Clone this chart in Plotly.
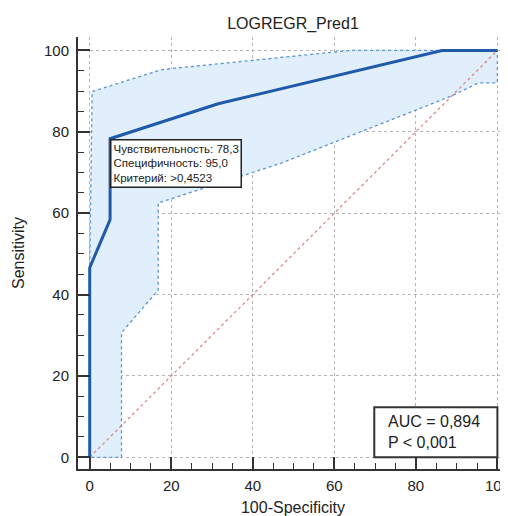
import plotly.graph_objects as go

# ---- data ----
roc_x = [0, 0, 5, 5, 31.5, 86.4, 100]
roc_y = [0, 46.6, 58.4, 78.3, 86.9, 100, 100]

upper_x = [0, 0, 0.6, 17.7, 63.9, 100]
upper_y = [0, 47, 89.9, 95.3, 100, 100]

lower_x = [0, 7.8, 7.8, 16.8, 16.8, 47, 88.5, 95.3, 100, 100]
lower_y = [0, 0, 30.6, 41.1, 62.5, 72.3, 88.7, 92, 92, 100]

diag_x = [0, 100]
diag_y = [0, 100]

tick_vals = [0, 20, 40, 60, 80, 100]
tick_text = ["0", "20", "40", "60", "80", "100"]

title_text = "LOGREGR_Pred1"
x_title = "100-Specificity"
y_title = "Sensitivity"
cut_text = "Чувствительность: 78,3<br>Специфичность: 95,0<br>Критерий: >0,4523"
cut_point = (5, 78.3)
auc_text = "AUC = 0,894<br>P < 0,001"

FONT = "Liberation Sans, Arial, sans-serif"

# the page body adds an 8px offset, so the figure is sized 8px smaller
W, H = 500, 508

# closed band polygon: upper bound then lower bound reversed
band_x = upper_x + lower_x[::-1]
band_y = upper_y + lower_y[::-1]

fig = go.Figure()
fig.add_trace(go.Scatter(
    x=band_x, y=band_y, mode="lines", fill="toself",
    fillcolor="rgba(225,238,252,1)",
    line=dict(color="#5a93d2", width=1.3, dash="dot"),
    hoverinfo="skip", showlegend=False))
fig.add_trace(go.Scatter(
    x=diag_x, y=diag_y, mode="lines",
    line=dict(color="#dc8078", width=1.2, dash="dot"),
    showlegend=False))
fig.add_trace(go.Scatter(
    x=roc_x, y=roc_y, mode="lines",
    line=dict(color="#1f5ba8", width=3),
    showlegend=False))

axis_common = dict(
    showline=True, linecolor="#333333", linewidth=2,
    ticks="inside", ticklen=12, tickwidth=1.5, tickcolor="#333333",
    tickvals=tick_vals, ticktext=tick_text,
    minor=dict(ticks="inside", ticklen=6, tickwidth=1.2, tickcolor="#333333", dtick=5, tick0=0, showgrid=False),
    showgrid=True, gridcolor="#b4b4b4", gridwidth=1, griddash="dot",
    zeroline=False, automargin=False, ticklabeloverflow="allow",
    tickfont=dict(family=FONT, size=15, color="#222222"),
)

fig.update_xaxes(range=[-2.87, 102.6], ticklabelstandoff=2,
                 title=dict(text=x_title, font=dict(family=FONT, size=16, color="#222222"), standoff=10),
                 **axis_common)
fig.update_yaxes(range=[-2.88, 103.3], ticklabelstandoff=4,
                 title=dict(text=y_title, font=dict(family=FONT, size=16, color="#222222"), standoff=15),
                 **axis_common)

fig.add_annotation(
    x=cut_point[0], y=cut_point[1], xref="x", yref="y",
    xanchor="left", yanchor="top", showarrow=False,
    text=cut_text, align="left",
    font=dict(family=FONT, size=11.5, color="#222222"),
    bgcolor="white", bordercolor="#222222", borderwidth=1.5, borderpad=2)

# AUC box
fig.add_shape(type="rect", xref="x", yref="y", x0=69.8, x1=100, y0=0, y1=12.3,
              line=dict(color="#333333", width=2), fillcolor="white", layer="above")
fig.add_annotation(
    x=72.7, y=6.15, xref="x", yref="y", xanchor="left", yanchor="middle",
    showarrow=False, text=auc_text, align="left",
    font=dict(family=FONT, size=16, color="#222222"))

fig.update_layout(
    width=W, height=H,
    margin=dict(l=70, r=0, t=29, b=47),
    paper_bgcolor="white", plot_bgcolor="white",
    title=dict(text=title_text, x=(70 + W) / 2 / W, xanchor="center",
               y=1 - 15 / H, yanchor="middle", yref="container",
               font=dict(family=FONT, size=16, color="#222222")),
    showlegend=False,
)

fig.write_html("out.html")
